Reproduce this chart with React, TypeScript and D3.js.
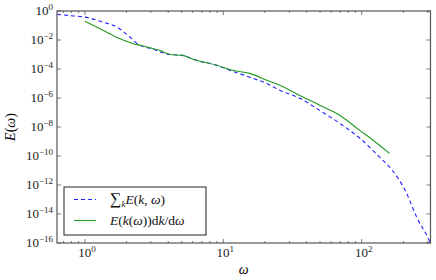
import * as React from 'react'
import { useEffect, useRef } from 'react'
import * as d3 from 'd3'

// summed spectrum, sum_k E(k, omega)
const sumOmega = [0.628, 0.8, 1.0, 1.35, 1.7, 2.11, 2.49, 2.95, 4.11, 5.1, 6.03, 8.98, 11.7, 15.5, 20.6, 25.6, 35.7, 49.7, 69.4, 96.8, 135, 167, 211, 250, 300, 314]
const sumE = [0.59, 0.47, 0.38, 0.17, 0.079, 0.016, 4.3e-3, 2.7e-3, 1.0e-3, 8.7e-4, 4.7e-4, 1.8e-4, 6.9e-5, 2.7e-5, 1.0e-5, 3.4e-6, 9.5e-7, 1.4e-7, 1.8e-8, 1.7e-9, 8.1e-11, 1.0e-11, 2.7e-13, 5.9e-15, 2.5e-16, 1e-16]

// E(k(omega)) dk/domega
const dkOmega = [1.0, 1.35, 1.8, 2.2, 2.6, 2.95, 3.5, 4.11, 5.1, 6.03, 8.98, 11.7, 15.5, 20.6, 25.6, 35.7, 49.7, 69.4, 78, 96.8, 114, 159]
const dkE = [0.195, 0.047, 0.012, 5.8e-3, 4.0e-3, 2.9e-3, 1.9e-3, 1.0e-3, 8.7e-4, 4.7e-4, 1.8e-4, 8.1e-5, 5.0e-5, 1.7e-5, 7.6e-6, 1.5e-6, 3.2e-7, 6.5e-8, 2.9e-8, 5.9e-9, 1.9e-9, 1.5e-10]

const xTickExps = [0, 1, 2]
const yTickExps = [0, -2, -4, -6, -8, -10, -12, -14, -16]
const legendLabels = ['sum', 'dk']

const width = 436
const height = 280
const margin = { top: 11, right: 5.5, bottom: 37, left: 57 }
const serif = '"Liberation Serif", "DejaVu Serif", serif'

const App = () => {
    const chartRef = useRef(null)

    useEffect(() => {
        const svg = d3.select(chartRef.current)
        svg.selectAll('*').remove()

        const x = d3.scaleLog().domain([0.2 * Math.PI, 100 * Math.PI]).range([margin.left, width - margin.right])
        const y = d3.scaleLog().domain([1e-16, 1]).range([height - margin.bottom, margin.top])
        const x0 = margin.left, x1 = width - margin.right
        const y0 = height - margin.bottom, y1 = margin.top

        svg.append('defs').append('clipPath').attr('id', 'plotclip')
            .append('rect').attr('x', x0).attr('y', y1).attr('width', x1 - x0).attr('height', y0 - y1)

        const line = d3.line().x(d => x(d[0])).y(d => y(d[1])).curve(d3.curveMonotoneX)

        const plot = svg.append('g').attr('clip-path', 'url(#plotclip)')
        plot.append('path')
            .attr('d', line(sumOmega.map((w, i) => [w, sumE[i]])))
            .attr('fill', 'none').attr('stroke', '#2222ff').attr('stroke-width', 1.1)
            .attr('stroke-dasharray', '4,3')
        plot.append('path')
            .attr('d', line(dkOmega.map((w, i) => [w, dkE[i]])))
            .attr('fill', 'none').attr('stroke', '#229922').attr('stroke-width', 1.1)

        // ticks, inward on all sides
        const tickCol = '#555'
        const ticks = svg.append('g').attr('stroke', tickCol).attr('stroke-width', 0.8)
        const minors = []
        for (let e = -1; e <= 2; e++) {
            for (let m = 2; m <= 9; m++) {
                const v = m * Math.pow(10, e)
                if (v > 0.2 * Math.PI && v < 100 * Math.PI) minors.push(v)
            }
        }
        minors.forEach(v => {
            ticks.append('line').attr('x1', x(v)).attr('x2', x(v)).attr('y1', y0).attr('y2', y0 - 2)
            ticks.append('line').attr('x1', x(v)).attr('x2', x(v)).attr('y1', y1).attr('y2', y1 + 2)
        })
        xTickExps.forEach(e => {
            const v = Math.pow(10, e)
            ticks.append('line').attr('x1', x(v)).attr('x2', x(v)).attr('y1', y0).attr('y2', y0 - 4)
            ticks.append('line').attr('x1', x(v)).attr('x2', x(v)).attr('y1', y1).attr('y2', y1 + 4)
            const t = svg.append('text').attr('x', x(v) + 2).attr('y', y0 + 14)
                .attr('text-anchor', 'middle').style('font-family', serif).style('font-size', '13px').attr('fill', '#222')
            t.append('tspan').text('10')
            t.append('tspan').attr('dy', -5).style('font-size', '9px').text(String(e))
        })
        yTickExps.forEach(e => {
            const v = Math.pow(10, e)
            ticks.append('line').attr('x1', x0).attr('x2', x0 + 4).attr('y1', y(v)).attr('y2', y(v))
            ticks.append('line').attr('x1', x1).attr('x2', x1 - 4).attr('y1', y(v)).attr('y2', y(v))
            const t = svg.append('text').attr('x', x0 - 4).attr('y', y(v) + 4)
                .attr('text-anchor', 'end').style('font-family', serif).style('font-size', '13px').attr('fill', '#222')
            t.append('tspan').text('10')
            t.append('tspan').attr('dy', -5).style('font-size', '9px').text(e === 0 ? '0' : '\u2212' + Math.abs(e))
        })

        svg.append('rect').attr('x', x0).attr('y', y1).attr('width', x1 - x0).attr('height', y0 - y1)
            .attr('fill', 'none').attr('stroke', tickCol).attr('stroke-width', 1.2)

        // axis labels
        svg.append('text').attr('x', (x0 + x1) / 2).attr('y', 274).attr('text-anchor', 'middle')
            .style('font-family', serif).style('font-size', '14px').style('font-style', 'italic').text('\u03c9')
        const yl = svg.append('text').attr('transform', `translate(15, ${(y0 + y1) / 2}) rotate(-90)`)
            .attr('text-anchor', 'middle').style('font-family', serif).style('font-size', '14px')
        yl.append('tspan').style('font-style', 'italic').text('E')
        yl.append('tspan').text('(')
        yl.append('tspan').style('font-style', 'italic').text('\u03c9')
        yl.append('tspan').text(')')

        // legend
        const lg = svg.append('g')
        lg.append('rect').attr('x', 64).attr('y', 187).attr('width', 142).attr('height', 48)
            .attr('fill', 'white').attr('stroke', '#222').attr('stroke-width', 1)
        legendLabels.forEach((k, i) => {
            const ly = 199.5 + i * 21
            lg.append('line').attr('x1', 74).attr('x2', 96).attr('y1', ly).attr('y2', ly)
                .attr('stroke', k === 'sum' ? '#2222ff' : '#229922').attr('stroke-width', 1.1)
                .attr('stroke-dasharray', k === 'sum' ? '4,3' : null)
            const t = lg.append('text').attr('x', 110).attr('y', ly + 4)
                .style('font-family', serif).style('font-size', '13.5px').attr('fill', '#111')
            if (k === 'sum') {
                t.append('tspan').style('font-size', '16px').text('\u2211')
                t.append('tspan').attr('dy', 3).style('font-size', '9px').style('font-style', 'italic').text('k')
                t.append('tspan').attr('dy', -3).style('font-style', 'italic').text('E')
                t.append('tspan').text('(')
                t.append('tspan').style('font-style', 'italic').text('k')
                t.append('tspan').text(', ')
                t.append('tspan').style('font-style', 'italic').text('\u03c9')
                t.append('tspan').text(')')
            } else {
                t.append('tspan').style('font-style', 'italic').text('E')
                t.append('tspan').text('(')
                t.append('tspan').style('font-style', 'italic').text('k')
                t.append('tspan').text('(')
                t.append('tspan').style('font-style', 'italic').text('\u03c9')
                t.append('tspan').text('))d')
                t.append('tspan').style('font-style', 'italic').text('k')
                t.append('tspan').text('/d')
                t.append('tspan').style('font-style', 'italic').text('\u03c9')
            }
        })
    }, [])

    return (
        <svg ref={chartRef} width={width} height={height} style={{ display: 'block', position: 'absolute', left: 0, top: 0 }}></svg>
    )
}

export default App
